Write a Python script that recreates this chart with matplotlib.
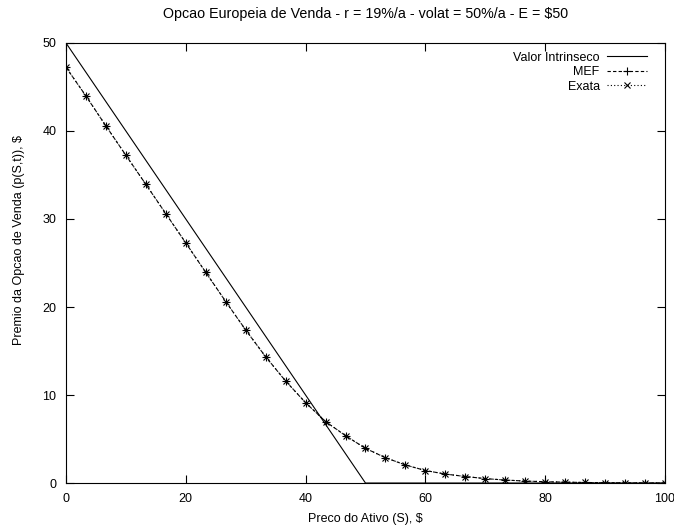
import matplotlib
matplotlib.use("Agg")
import matplotlib.pyplot as plt

plt.rcParams['font.family'] = ['Liberation Sans', 'DejaVu Sans']
plt.rcParams['font.size'] = 9

# Preco do ativo (S) na malha, passo 100/30
preco = [0.00, 3.33, 6.67, 10.00, 13.33, 16.67, 20.00, 23.33, 26.67, 30.00,
         33.33, 36.67, 40.00, 43.33, 46.67, 50.00, 53.33, 56.67, 60.00, 63.33,
         66.67, 70.00, 73.33, 76.67, 80.00, 83.33, 86.67, 90.00, 93.33, 96.67,
         100.00]

# Premio da opcao de venda: metodo dos elementos finitos e solucao exata
premio_mef = [47.24, 43.98, 40.57, 37.24, 33.94, 30.60, 27.28, 23.94, 20.62, 17.39,
              14.35, 11.59, 9.13, 6.99, 5.38, 3.94, 2.88, 2.05, 1.42, 1.02,
              0.74, 0.50, 0.34, 0.22, 0.15, 0.10, 0.06, 0.04, 0.02, 0.01,
              0.00]
premio_exata = [47.24, 43.98, 40.57, 37.24, 33.94, 30.60, 27.28, 23.94, 20.62, 17.39,
                14.35, 11.59, 9.13, 6.99, 5.38, 3.94, 2.88, 2.05, 1.42, 1.02,
                0.74, 0.50, 0.34, 0.22, 0.15, 0.10, 0.06, 0.04, 0.02, 0.01,
                0.00]

# Valor intrinseco max(E - S, 0) com E = 50
s_intrinseco = [0, 50, 100]
v_intrinseco = [50, 0, 0]

fig = plt.figure(figsize=(6.74, 5.26), dpi=100)
ax = fig.add_axes([0.0979, 0.0817, 0.8887, 0.8366])

ax.plot(s_intrinseco, v_intrinseco, color='black', lw=0.8, label='Valor Intrinseco')
ax.plot(preco, premio_mef, color='black', lw=0.8, ls=(0, (3, 2)),
        marker='+', ms=6, mew=0.8, label='MEF')
ax.plot(preco, premio_exata, color='black', lw=0.8, ls=(0, (1, 2)),
        marker='x', ms=5, mew=0.8, label='Exata')

ax.set_xlim(0, 100)
ax.set_ylim(0, 50)
ax.set_xticks([0, 20, 40, 60, 80, 100])
ax.set_yticks([0, 10, 20, 30, 40, 50])
ax.tick_params(direction='in', length=6, width=0.8, top=True, right=True, pad=7)
for sp in ax.spines.values():
    sp.set_linewidth(0.8)

ax.set_title('Opcao Europeia de Venda - r = 19%/a - volat = 50%/a - E = $50',
             fontsize=10.3, pad=18)
ax.set_xlabel('Preco do Ativo (S), $', labelpad=6)
ax.set_ylabel('Premio da Opcao de Venda (p(S,t)), $')
ax.yaxis.set_label_coords(-0.068, 0.552)

ax.legend(loc='upper right', frameon=False, markerfirst=False, handlelength=3.2,
          handletextpad=0.6, labelspacing=0.2, borderaxespad=0.3,
          bbox_to_anchor=(0.985, 1.0))

fig.savefig('out.png', dpi=100)
